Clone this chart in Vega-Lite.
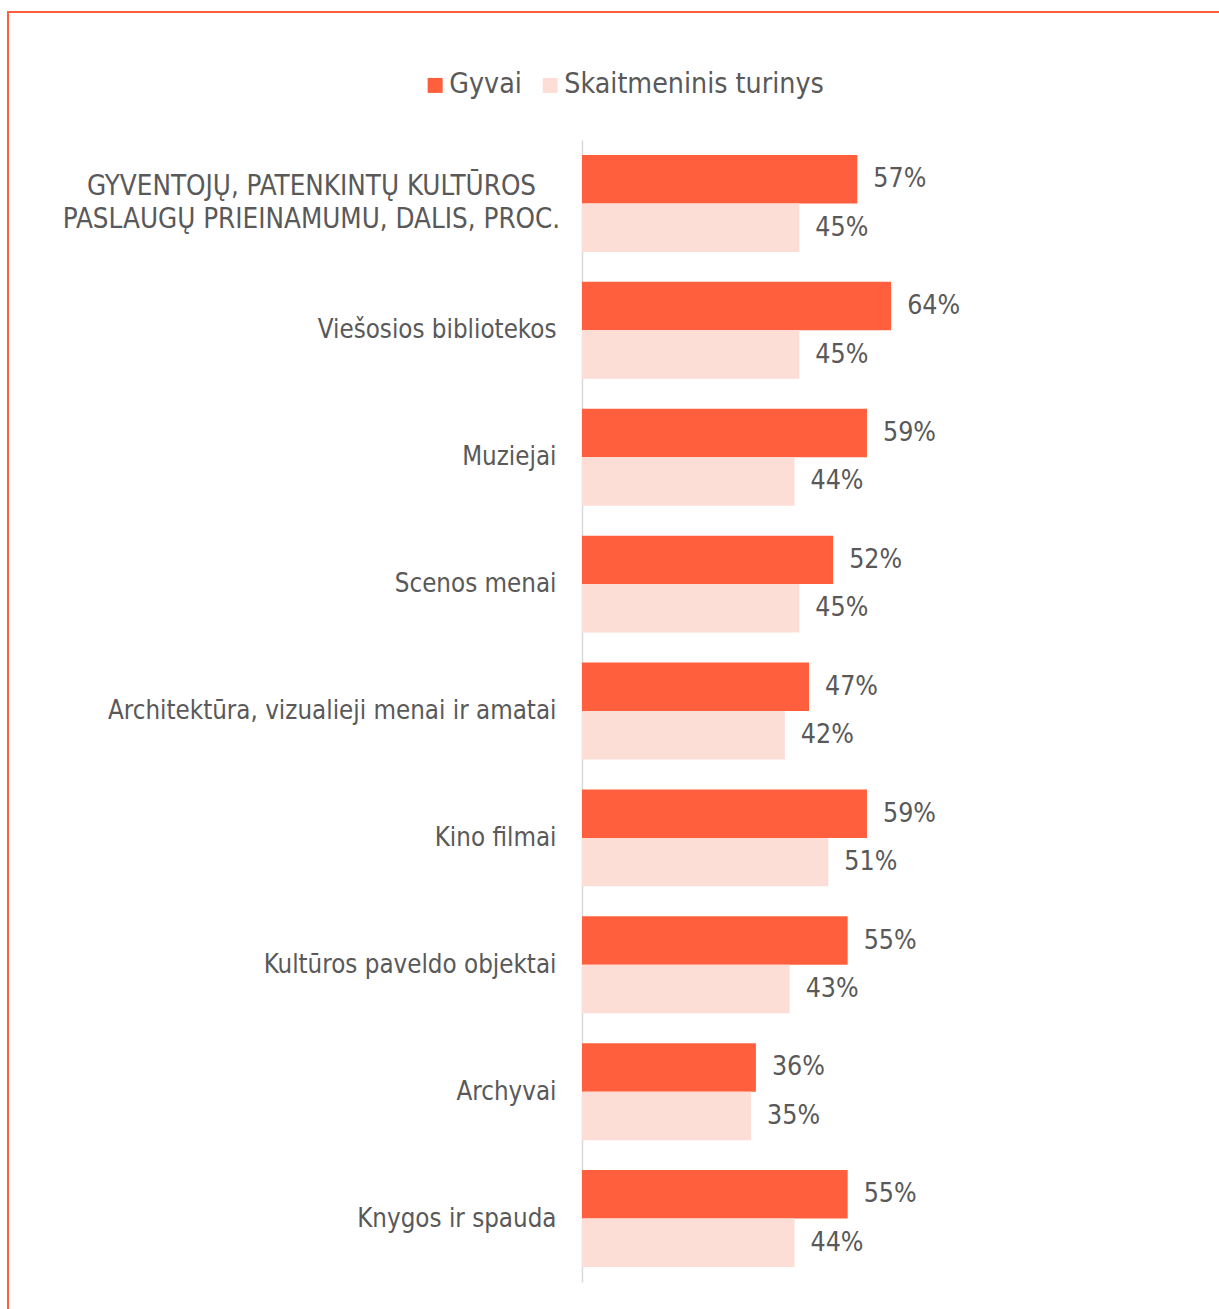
{
  "$schema": "https://vega.github.io/schema/vega-lite/v6.json",
  "width": 1225,
  "height": 1306,
  "autosize": {"type": "none"},
  "padding": {"left": 8, "top": 12, "right": -14, "bottom": -9},
  "background": "white",
  "config": {
    "view": {"stroke": "#FF5F3D", "strokeWidth": 2},
    "font": "DejaVu Sans Condensed"
  },
  "data": {
    "values": [
      {"category": "GYVENTOJŲ, PATENKINTŲ KULTŪROS|PASLAUGŲ PRIEINAMUMU, DALIS, PROC.", "series": "Gyvai", "value": 0.57},
      {"category": "GYVENTOJŲ, PATENKINTŲ KULTŪROS|PASLAUGŲ PRIEINAMUMU, DALIS, PROC.", "series": "Skaitmeninis turinys", "value": 0.45},
      {"category": "Viešosios bibliotekos", "series": "Gyvai", "value": 0.64},
      {"category": "Viešosios bibliotekos", "series": "Skaitmeninis turinys", "value": 0.45},
      {"category": "Muziejai", "series": "Gyvai", "value": 0.59},
      {"category": "Muziejai", "series": "Skaitmeninis turinys", "value": 0.44},
      {"category": "Scenos menai", "series": "Gyvai", "value": 0.52},
      {"category": "Scenos menai", "series": "Skaitmeninis turinys", "value": 0.45},
      {"category": "Architektūra, vizualieji menai ir amatai", "series": "Gyvai", "value": 0.47},
      {"category": "Architektūra, vizualieji menai ir amatai", "series": "Skaitmeninis turinys", "value": 0.42},
      {"category": "Kino filmai", "series": "Gyvai", "value": 0.59},
      {"category": "Kino filmai", "series": "Skaitmeninis turinys", "value": 0.51},
      {"category": "Kultūros paveldo objektai", "series": "Gyvai", "value": 0.55},
      {"category": "Kultūros paveldo objektai", "series": "Skaitmeninis turinys", "value": 0.43},
      {"category": "Archyvai", "series": "Gyvai", "value": 0.36},
      {"category": "Archyvai", "series": "Skaitmeninis turinys", "value": 0.35},
      {"category": "Knygos ir spauda", "series": "Gyvai", "value": 0.55},
      {"category": "Knygos ir spauda", "series": "Skaitmeninis turinys", "value": 0.44}
    ]
  },
  "encoding": {
    "y": {
      "field": "category",
      "type": "nominal",
      "sort": null,
      "scale": {"range": [128, 1270], "paddingInner": 0.236, "paddingOuter": 0.118},
      "axis": {
        "title": null,
        "orient": "left",
        "offset": -574,
        "domainColor": "#D9D9D9",
        "domainWidth": 1.5,
        "ticks": false,
        "tickSize": 0,
        "labelPadding": {"condition": {"test": "indexof(datum.label, '|') >= 0", "value": 271}, "value": 26},
        "labelAlign": {"condition": {"test": "indexof(datum.label, '|') >= 0", "value": "center"}, "value": "right"},
        "labelOffset": {"condition": {"test": "indexof(datum.label, '|') >= 0", "value": -16}, "value": 0},
        "labelFontSize": {"condition": {"test": "indexof(datum.label, '|') >= 0", "value": 27.5}, "value": 25.7},
        "labelColor": "#595959",
        "labelLimit": 800,
        "labelLineHeight": 33,
        "labelExpr": "split(datum.label, '|')"
      }
    },
    "yOffset": {
      "field": "series",
      "type": "nominal",
      "sort": ["Gyvai", "Skaitmeninis turinys"],
      "scale": {"paddingInner": 0, "paddingOuter": 0}
    },
    "x": {
      "field": "value",
      "type": "quantitative",
      "scale": {"domain": [-1.1884, 1.3478], "nice": false, "zero": false},
      "axis": null
    }
  },
  "layer": [
    {
      "mark": {"type": "bar", "strokeWidth": 0},
      "encoding": {
        "color": {
          "field": "series",
          "type": "nominal",
          "sort": ["Gyvai", "Skaitmeninis turinys"],
          "scale": {"domain": ["Gyvai", "Skaitmeninis turinys"], "range": ["#FF5F3D", "#FDDED7"]},
          "legend": {
            "title": null,
            "orient": "none",
            "legendX": 413,
            "legendY": 59,
            "direction": "horizontal",
            "symbolType": "square",
            "symbolSize": 225,
            "symbolStrokeWidth": 0,
            "labelFontSize": 28.3,
            "labelColor": "#595959",
            "labelOffset": 0,
            "columnPadding": 14,
            "labelLimit": 500
          }
        }
      }
    },
    {
      "mark": {"type": "text", "align": "left", "baseline": "middle", "dx": 16, "fontSize": 26.5, "color": "#595959"},
      "encoding": {
        "text": {"field": "value", "type": "quantitative", "format": ".0%"}
      }
    }
  ]
}
